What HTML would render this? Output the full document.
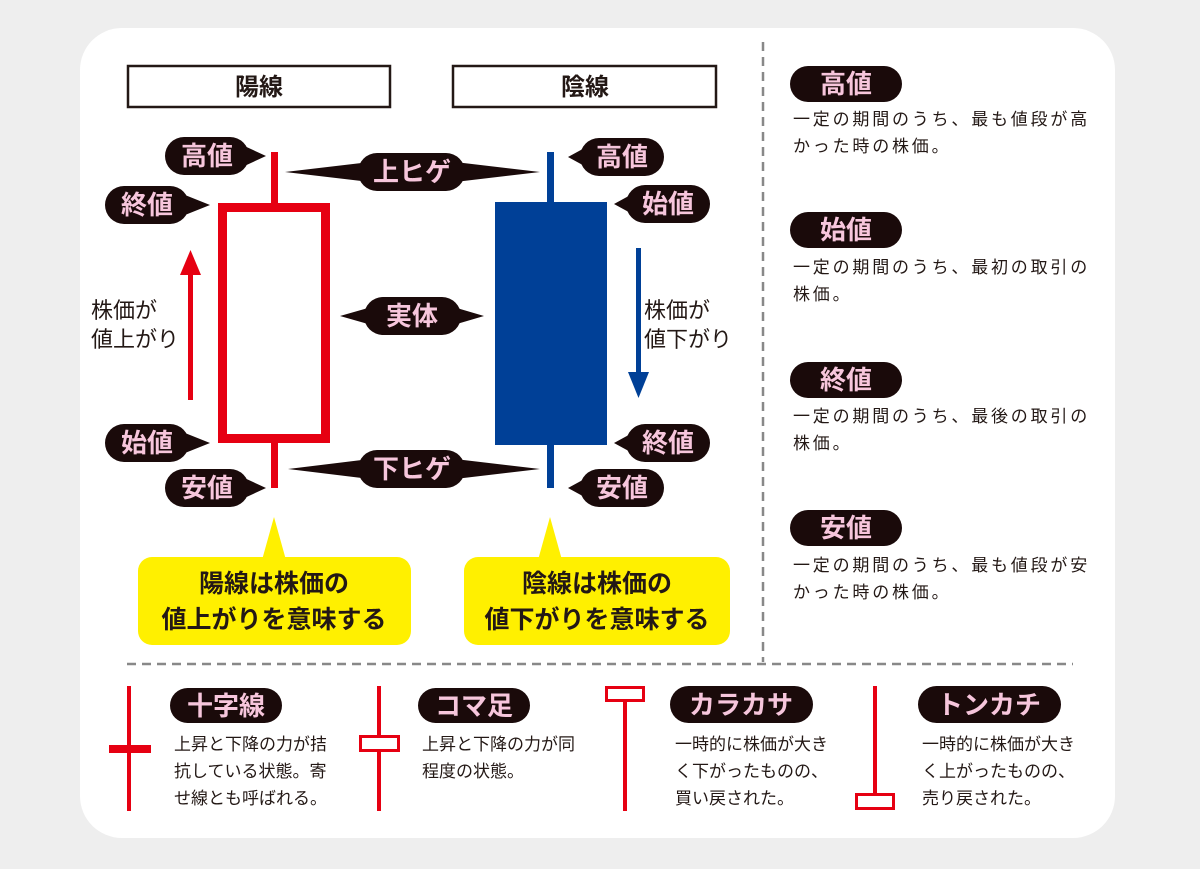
<!DOCTYPE html>
<html><head><meta charset="utf-8"><style>
html,body{margin:0;padding:0;background:#eeeeee;}
svg{display:block;}
text{font-family:"Liberation Sans","Noto Sans CJK JP",sans-serif;}
.lb{fill:#f7c6dc;font-size:26px;font-weight:bold;text-anchor:middle;}
.d{fill:#231815;font-size:17px;}
.dr{letter-spacing:2.8px;}
.h{fill:#231815;font-size:24px;font-weight:bold;text-anchor:middle;}
.y{fill:#231815;font-size:25px;font-weight:bold;text-anchor:middle;}
</style></head><body>
<svg width="1200" height="869" viewBox="0 0 1200 869">
<rect x="0" y="0" width="1200" height="869" fill="#eeeeee"/>
<rect x="80" y="28" width="1035" height="810" rx="42" fill="#fff"/>
<g fill="#1a0a0a">
<rect x="165" y="137" width="84" height="38" rx="19"/><polygon points="240,144 266,156 240,168"/>
<rect x="105" y="186" width="84" height="38" rx="19"/><polygon points="180,193 210,205 180,217"/>
<rect x="105" y="424" width="84" height="38" rx="19"/><polygon points="180,431 210,443 180,455"/>
<rect x="165" y="469" width="84" height="38" rx="19"/><polygon points="240,476 266,488 240,500"/>
<rect x="580" y="138" width="84" height="38" rx="19"/><polygon points="590,145 568,157 590,169"/>
<rect x="626" y="185" width="84" height="38" rx="19"/><polygon points="636,192 614,204 636,216"/>
<rect x="626" y="424" width="84" height="38" rx="19"/><polygon points="636,431 614,443 636,455"/>
<rect x="580" y="469" width="84" height="38" rx="19"/><polygon points="590,476 568,488 590,500"/>
<rect x="358" y="153" width="107" height="38" rx="19"/><polygon points="370,162 285,172 370,182"/><polygon points="455,162 540,172 455,182"/>
<rect x="364" y="297" width="97" height="38" rx="19"/><polygon points="375,306 340,316 375,326"/><polygon points="450,306 484,316 450,326"/>
<rect x="358" y="450" width="107" height="38" rx="19"/><polygon points="370,459 288,469 370,479"/><polygon points="455,459 540,469 455,479"/>
<rect x="790" y="66" width="112" height="36" rx="18"/>
<rect x="790" y="212" width="112" height="36" rx="18"/>
<rect x="790" y="362" width="112" height="36" rx="18"/>
<rect x="790" y="510" width="112" height="36" rx="18"/>
<rect x="170" y="688" width="112" height="35" rx="17.5"/>
<rect x="418" y="688" width="112" height="35" rx="17.5"/>
<rect x="670" y="686" width="143" height="37" rx="18.5"/>
<rect x="918" y="686" width="143" height="37" rx="18.5"/>
</g>
<g class="lb">
<text x="207" y="165">高値</text><text x="147" y="214">終値</text><text x="147" y="452">始値</text><text x="207" y="497">安値</text>
<text x="622" y="166">高値</text><text x="668" y="213">始値</text><text x="668" y="452">終値</text><text x="622" y="497">安値</text>
<text x="412" y="181">上ヒゲ</text><text x="412" y="325">実体</text><text x="412" y="478">下ヒゲ</text>
<text x="846" y="93">高値</text><text x="846" y="239">始値</text><text x="846" y="389">終値</text><text x="846" y="537">安値</text>
<text x="226" y="715">十字線</text><text x="474" y="715">コマ足</text><text x="741" y="714">カラカサ</text><text x="989" y="714">トンカチ</text>
</g>
<rect x="128" y="66" width="262" height="41" fill="#fff" stroke="#231815" stroke-width="2.5"/>
<rect x="453" y="66" width="263" height="41" fill="#fff" stroke="#231815" stroke-width="2.5"/>
<text class="h" x="259" y="95">陽線</text><text class="h" x="585" y="95">陰線</text>
<rect x="271" y="152" width="7" height="336" fill="#e60012"/>
<rect x="222.5" y="207.5" width="103" height="231" fill="#fff" stroke="#e60012" stroke-width="9"/>
<rect x="547" y="152" width="7" height="336" fill="#004097"/>
<rect x="495" y="202" width="112" height="243" fill="#004097"/>
<rect x="188" y="270" width="5" height="130" fill="#e60012"/><polygon points="180,275 190.5,250 201,275" fill="#e60012"/>
<rect x="636" y="248" width="5" height="128" fill="#004097"/><polygon points="628,372 638.5,398 649,372" fill="#004097"/>
<g fill="#231815" font-size="22">
<text x="91" y="318">株価が</text><text x="91" y="347">値上がり</text>
<text x="644" y="318">株価が</text><text x="644" y="347">値下がり</text>
</g>
<g fill="#fff000">
<rect x="138" y="557" width="273" height="88" rx="14"/><polygon points="262,560 274,517 286,560"/>
<rect x="464" y="557" width="266" height="88" rx="14"/><polygon points="538,560 550,517 562,560"/>
</g>
<text class="y" x="274" y="592">陽線は株価の</text><text class="y" x="274" y="628">値上がりを意味する</text>
<text class="y" x="597" y="592">陰線は株価の</text><text class="y" x="597" y="628">値下がりを意味する</text>
<line x1="763" y1="42" x2="763" y2="662" stroke="#888" stroke-width="2.5" stroke-dasharray="9,6"/>
<line x1="127" y1="664" x2="1073" y2="664" stroke="#888" stroke-width="2.5" stroke-dasharray="9,6"/>
<g class="d">
<g class="dr">
<text x="793" y="125">一定の期間のうち、最も値段が高</text><text x="793" y="152">かった時の株価。</text>
<text x="793" y="273">一定の期間のうち、最初の取引の</text><text x="793" y="300">株価。</text>
<text x="793" y="422">一定の期間のうち、最後の取引の</text><text x="793" y="449">株価。</text>
<text x="793" y="571">一定の期間のうち、最も値段が安</text><text x="793" y="598">かった時の株価。</text>
</g>
<text x="174" y="750">上昇と下降の力が拮</text><text x="174" y="777">抗している状態。寄</text><text x="174" y="804">せ線とも呼ばれる。</text>
<text x="422" y="750">上昇と下降の力が同</text><text x="422" y="777">程度の状態。</text>
<text x="675" y="750">一時的に株価が大き</text><text x="675" y="777">く下がったものの、</text><text x="675" y="804">買い戻された。</text>
<text x="922" y="750">一時的に株価が大き</text><text x="922" y="777">く上がったものの、</text><text x="922" y="804">売り戻された。</text>
</g>
<g fill="#e60012">
<rect x="127" y="686" width="4" height="125"/><rect x="109" y="745" width="42" height="8"/>
<rect x="377" y="686" width="4" height="125"/>
<rect x="623" y="700" width="4" height="111"/>
<rect x="873" y="686" width="4" height="110"/>
</g>
<g fill="#fff" stroke="#e60012" stroke-width="3">
<rect x="360.5" y="736.5" width="38" height="14"/>
<rect x="606.5" y="687.5" width="37" height="13"/>
<rect x="856.5" y="794.5" width="37" height="14"/>
</g>
</svg>
</body></html>
